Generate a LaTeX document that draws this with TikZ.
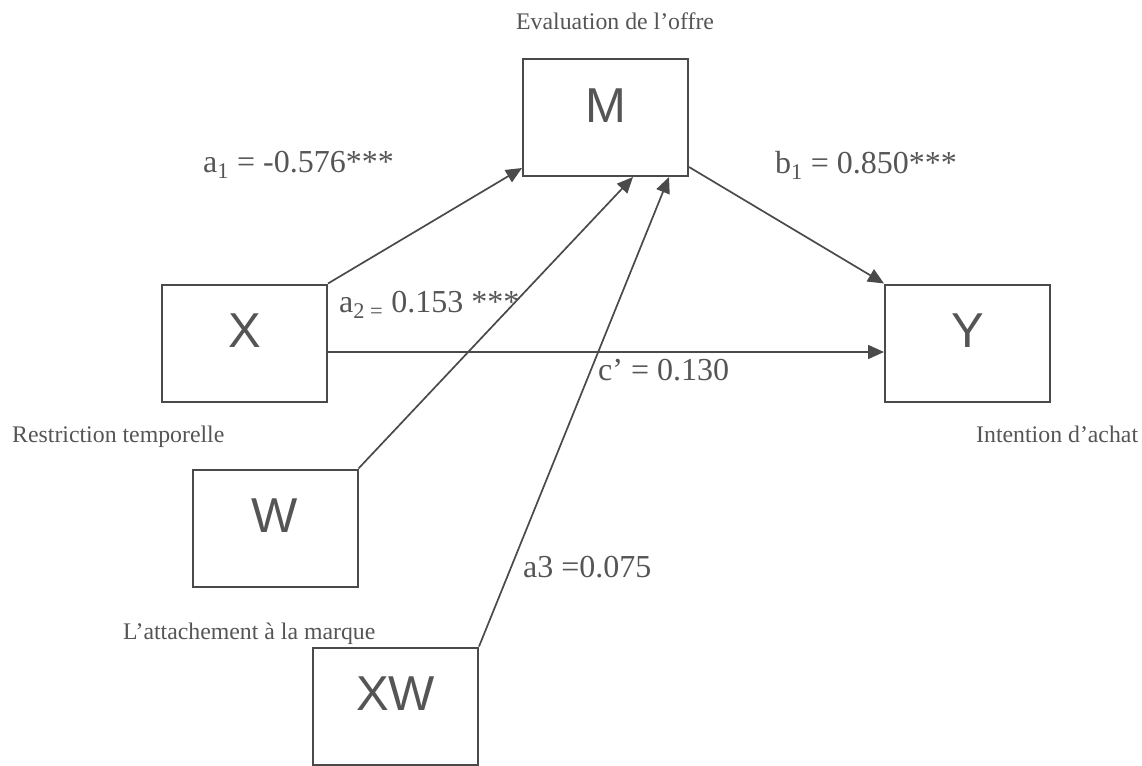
\documentclass[tikz,border=0pt]{standalone}
\usepackage{fontspec}
\setmainfont{Liberation Serif}
\newfontfamily\boxfont{Liberation Sans}
\usetikzlibrary{arrows.meta,calc}
\definecolor{linegray}{HTML}{4A4A4A}
\definecolor{textgray}{HTML}{555555}
\begin{document}
\begin{tikzpicture}[x=1pt,y=-1pt,
  varbox/.style={draw=linegray,line width=2pt,inner sep=0pt,minimum width=165pt,
    text height=63pt,text depth=54pt,font=\boxfont\fontsize{49}{52}\selectfont,text=textgray},
  conn/.style={draw=linegray,line width=1.7pt,-{Triangle[length=16pt,width=14pt]}},
  coef/.style={anchor=base west,inner sep=0pt,text=textgray,font=\fontsize{32}{36}\selectfont},
  varname/.style={anchor=base west,inner sep=0pt,text=textgray,font=\fontsize{23.8}{26}\selectfont}]
\useasboundingbox (0,0) rectangle (1142,765);
% boxes
\node[varbox] (M) at (605.5,117.5) {M};
\node[varbox] (X) at (244.5,343) {X};
\node[varbox] (Y) at (967.5,343) {Y};
\node[varbox] (W) at (275,528) {W};
\node[varbox] (XW) at (395.5,706) {XW};
% variable names
\node[varname] (lM) at (516,30) {Evaluation de l’offre};
\node[varname] (lX) at (12,442) {Restriction temporelle};
\node[varname] (lY) at (976,442) {Intention d’achat};
\node[varname] (lW) at (123,639) {L’attachement à la marque};
% connectors
\draw[conn] (X.north east) -- ($(M.south west)+(0,-9)$);
\draw[conn] (W.north east) -- ($(M.south west)+(111,0)$);
\draw[conn] (XW.north east) -- ($(M.south west)+(147,0)$);
\draw[conn] ($(M.south east)+(0,-10)$) -- (Y.north west);
\draw[conn] ($(X.east)+(0,9)$) -- ($(Y.west)+(0,9)$);
% coefficients
\node[coef] (ca1) at (203,172) {a\textsubscript{1} = -0.576***};
\node[coef] (cb1) at (775,173) {b\textsubscript{1} = 0.850***};
\node[coef] (ca2) at (339,312) {a\textsubscript{2 =} 0.153 ***};
\node[coef] (cc) at (598,380) {c’ = 0.130};
\node[coef] (ca3) at (523,577) {a3 =0.075};
\end{tikzpicture}
\end{document}
